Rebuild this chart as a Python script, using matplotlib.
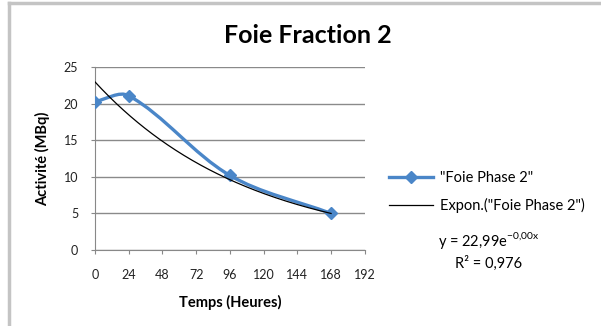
import matplotlib
matplotlib.use("Agg")
import matplotlib.pyplot as plt
from matplotlib.path import Path
from matplotlib.patches import PathPatch
from matplotlib.lines import Line2D
import numpy as np

# data
hours = [0, 24, 96, 168]
activity = [20.3, 21.1, 10.2, 5.0]
fit_a = 22.99
fit_b = 0.00908
xticks = [0, 24, 48, 72, 96, 120, 144, 168, 192]
yticks = [0, 5, 10, 15, 20, 25]

plt.rcParams['font.family'] = ['Lato', 'DejaVu Sans']
plt.rcParams['mathtext.fontset'] = 'custom'
plt.rcParams['mathtext.rm'] = 'Lato'

fig = plt.figure(figsize=(6.01, 3.26), dpi=100)
ax = fig.add_axes([0.158, 0.233, 0.449, 0.561])

# excel-style smoothed line: bezier segments, tangents weighted by segment length (pixel space)
sx, sy = 1.41, 7.3
pts = np.column_stack([hours, activity]).astype(float)
def seglen(a, b):
    return np.hypot((b[0] - a[0]) * sx, (b[1] - a[1]) * sy)
verts = [tuple(pts[0])]
codes = [Path.MOVETO]
n = len(pts)
for i in range(n - 1):
    p1 = pts[i]
    p2 = pts[i + 1]
    if i > 0:
        p0 = pts[i - 1]
        w = seglen(p1, p2) / (seglen(p0, p1) + seglen(p1, p2))
        c1 = p1 + (p2 - p0) * w / 3.0
    else:
        c1 = p1 + (p2 - p1) / 3.0
    if i + 2 < n:
        p3 = pts[i + 2]
        w = seglen(p1, p2) / (seglen(p1, p2) + seglen(p2, p3))
        c2 = p2 - (p3 - p1) * w / 3.0
    else:
        c2 = p2 - (p2 - p1) / 3.0
    verts += [tuple(c1), tuple(c2), tuple(p2)]
    codes += [Path.CURVE4] * 3
blue = '#4a86c8'
ax.add_patch(PathPatch(Path(verts, codes), fill=False, edgecolor=blue, lw=2.4, zorder=3))
ax.plot(hours, activity, ls='none', marker='D', ms=6, color=blue, zorder=4)

# exponential trend line
xs = np.linspace(0, 168, 200)
ax.plot(xs, fit_a * np.exp(-fit_b * xs), color='black', lw=0.9, zorder=5)

ax.set_xlim(0, 192)
ax.set_ylim(0, 25)
ax.set_xticks(xticks)
ax.set_yticks(yticks)
ax.tick_params(labelsize=9, labelcolor='#222222', length=3, width=0.8, color='#888888')
ax.tick_params(axis='x', pad=11)
ax.tick_params(axis='y', pad=9)
ax.grid(axis='y', color='#8a8a8a', lw=1)
ax.set_axisbelow(True)
for s in ['top', 'right']:
    ax.spines[s].set_visible(False)
for s in ['left', 'bottom']:
    ax.spines[s].set_color('#888888')
ax.set_xlabel('Temps (Heures)', fontsize=10.5, fontweight='bold', labelpad=10)
ax.set_ylabel('Activité (MBq)', fontsize=10.5, fontweight='bold', labelpad=10)

fig.text(0.512, 0.89, 'Foie Fraction 2', ha='center', va='center', fontsize=18, fontweight='bold')

# legend drawn on the right
leg = [Line2D([], [], color=blue, lw=2.4, marker='D', ms=6),
       Line2D([], [], color='black', lw=0.9)]
fig.legend(leg, ['"Foie Phase 2"', 'Expon.("Foie Phase 2")'], loc='center left',
           bbox_to_anchor=(0.625, 0.41), frameon=False, fontsize=10.5,
           handlelength=3.0, labelspacing=0.9, handletextpad=0.5)
fig.text(0.813, 0.261, r'y = 22,99e$^{\mathrm{-0{,}00x}}$', ha='center', va='center', fontsize=10.5)
fig.text(0.813, 0.193, 'R² = 0,976', ha='center', va='center', fontsize=10.5)

# grey frame around the chart (left and top visible)
fig.add_artist(Line2D([0.015, 0.015], [0, 0.99], color='#c4c4c4', lw=2.5))
fig.add_artist(Line2D([0.015, 1], [0.99, 0.99], color='#c4c4c4', lw=2.5))

fig.savefig('out.png', dpi=100)
